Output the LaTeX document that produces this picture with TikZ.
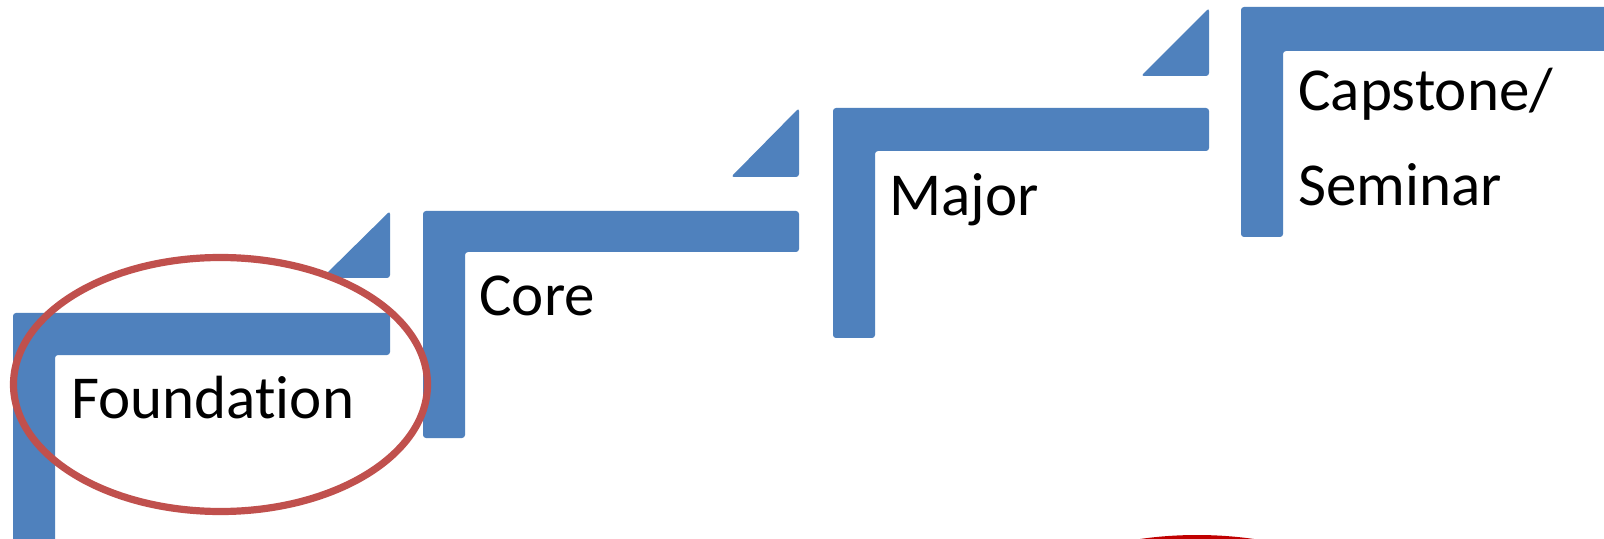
\documentclass[tikz,border=0pt]{standalone}
\usepackage{fontspec}
\setmainfont[RawFeature={-liga;-clig}]{Carlito}
\definecolor{stepblue}{HTML}{4F81BD}
\definecolor{ringred}{HTML}{C0504D}
\definecolor{darkring}{HTML}{C00000}
\tikzset{
  stepshape/.style={fill=stepblue, draw=none, rounded corners=1.5pt},
  lbl/.style={inner sep=0pt, anchor=base west, font=\fontsize{30.5}{36}\selectfont, text=black},
}
\begin{document}
\begin{tikzpicture}[x=0.5pt, y=-0.5pt]
\useasboundingbox (0,0) rectangle (1604,539);
\clip (0,0) rectangle (1604,539);
\fill[white] (0,0) rectangle (1604,539);
% L-shaped steps
\fill[stepshape] (13,313) -- (390,313) -- (390,355) -- (55,355) -- (55,600) -- (13,600) -- cycle;
\fill[stepshape] (423,211) -- (799,211) -- (799,252) -- (465,252) -- (465,438) -- (423,438) -- cycle;
\fill[stepshape] (833,108) -- (1209,108) -- (1209,151) -- (875,151) -- (875,338) -- (833,338) -- cycle;
\fill[stepshape] (1241,7) -- (1640,7) -- (1640,51) -- (1283,51) -- (1283,237) -- (1241,237) -- cycle;
% triangles
\fill[stepshape] (390,211) -- (390,278) -- (322,278) -- cycle;
\fill[stepshape] (799,108) -- (799,177) -- (731,177) -- cycle;
\fill[stepshape] (1209,8) -- (1209,76) -- (1141,76) -- cycle;
% labels
\node[lbl] (foundation) at (71,418) {Foundation};
\node[lbl] (core) at (479,315) {Core};
\node[lbl] (major) at (889,216) {Major};
\node[lbl] (capstone) at (1298,111) {Capstone/};
\node[lbl] (seminar) at (1298,206) {Seminar};
% red ellipses
\draw[ringred, line width=3.6pt] (220.5,384.5) ellipse [x radius=207, y radius=127];
\draw[darkring, line width=2pt] (1197,667) ellipse [x radius=230, y radius=130];
\end{tikzpicture}
\end{document}
